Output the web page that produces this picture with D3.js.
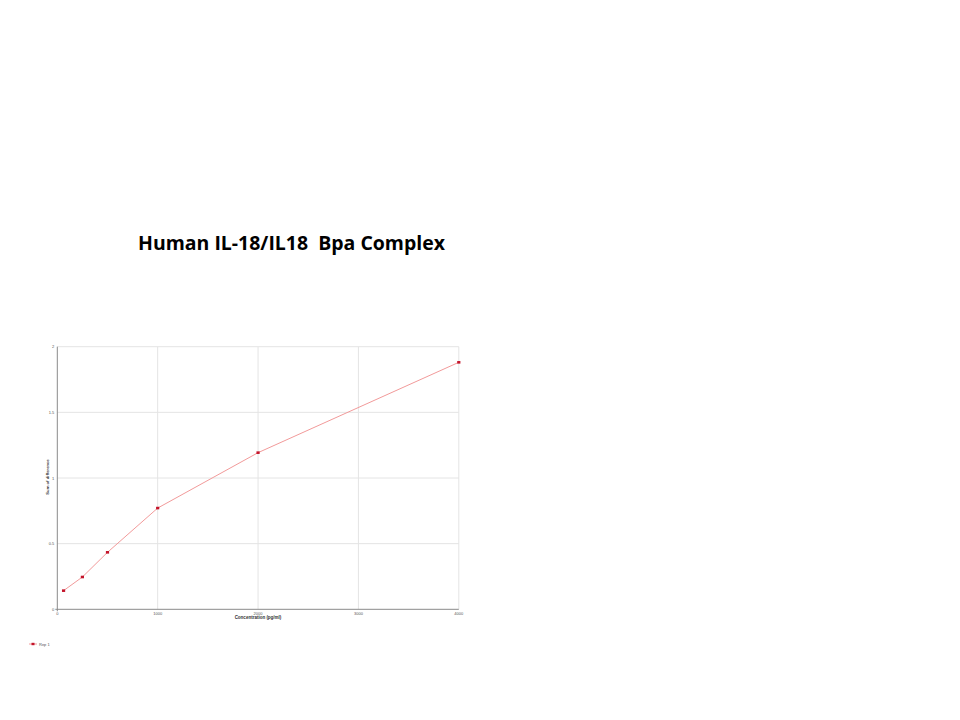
<!DOCTYPE html>
<html>
<head>
<meta charset="utf-8">
<script src="https://cdn.jsdelivr.net/npm/d3@7"></script>
<style>
  body { margin: 0; background: #fff; }
  svg { display: block; }
</style>
</head>
<body>
<div id="chart"></div>
<script>
// Standard curve data (concentration in pg/ml vs. difference)
const concentrations = [62.5, 250, 500, 1000, 2000, 4000];
const differences = [0.142, 0.246, 0.434, 0.771, 1.193, 1.881];
const xTicks = [0, 1000, 2000, 3000, 4000];
const yTicks = [0, 0.5, 1, 1.5, 2];
const seriesName = 'Rep 1';

const width = 960, height = 720;

const svg = d3.select('#chart').append('svg')
    .attr('width', width)
    .attr('height', height);

// Title (keep the double space)
svg.append('text')
    .attr('x', 138)
    .attr('y', 250)
    .attr('textLength', 307)
    .attr('lengthAdjust', 'spacingAndGlyphs')
    .style('white-space', 'pre')
    .style('font-family', '"Open Sans", "Liberation Sans", sans-serif')
    .style('font-weight', 'bold')
    .style('font-size', '19px')
    .style('fill', '#000')
    .text('Human IL-18/IL18  Bpa Complex');

// Plot area
const x = d3.scaleLinear().domain([0, 4000]).range([57.3, 458.8]);
const y = d3.scaleLinear().domain([0, 2]).range([609.3, 346.7]);

// gridlines
svg.append('g')
    .selectAll('line')
    .data(xTicks.slice(1))
    .enter()
    .append('line')
    .attr('x1', d => x(d)).attr('x2', d => x(d))
    .attr('y1', y(2)).attr('y2', y(0))
    .style('stroke', '#e4e4e4')
    .style('stroke-width', 1);

svg.append('g')
    .selectAll('line')
    .data(yTicks.slice(1))
    .enter()
    .append('line')
    .attr('x1', x(0)).attr('x2', x(4000))
    .attr('y1', d => y(d)).attr('y2', d => y(d))
    .style('stroke', '#e4e4e4')
    .style('stroke-width', 1);

// axes lines
svg.append('line')
    .attr('x1', x(0)).attr('x2', x(0))
    .attr('y1', y(2)).attr('y2', y(0) + 2)
    .style('stroke', '#8a8a8a')
    .style('stroke-width', 1);

svg.append('line')
    .attr('x1', x(0) - 2).attr('x2', x(4000))
    .attr('y1', y(0)).attr('y2', y(0))
    .style('stroke', '#8a8a8a')
    .style('stroke-width', 1);

// tick labels
const tickFont = '"Liberation Sans", Arial, sans-serif';
svg.append('g')
    .selectAll('text')
    .data(yTicks)
    .enter()
    .append('text')
    .attr('x', x(0) - 3)
    .attr('y', d => y(d) + 1.5)
    .style('text-anchor', 'end')
    .style('font-family', tickFont)
    .style('font-size', '4px')
    .style('fill', '#555')
    .text(d => d);

svg.append('g')
    .selectAll('text')
    .data(xTicks)
    .enter()
    .append('text')
    .attr('x', d => x(d))
    .attr('y', y(0) + 5.5)
    .style('text-anchor', 'middle')
    .style('font-family', tickFont)
    .style('font-size', '4px')
    .style('fill', '#555')
    .text(d => d);

// axis titles
svg.append('text')
    .attr('x', 258)
    .attr('y', 618.5)
    .style('text-anchor', 'middle')
    .style('font-family', tickFont)
    .style('font-weight', 'bold')
    .style('font-size', '4.5px')
    .style('fill', '#333')
    .text('Concentration (pg/ml)');

svg.append('text')
    .attr('transform', 'translate(48.5, 477) rotate(-90)')
    .style('text-anchor', 'middle')
    .style('font-family', tickFont)
    .style('font-weight', 'bold')
    .style('font-size', '4.2px')
    .style('fill', '#333')
    .text('Sum of difference');

// series line and markers
const points = concentrations.map((c, i) => ({ c: c, v: differences[i] }));

svg.append('path')
    .datum(points)
    .attr('d', d3.line().x(d => x(d.c)).y(d => y(d.v)))
    .style('fill', 'none')
    .style('stroke', '#f29a9a')
    .style('stroke-width', 1);

svg.selectAll('.marker')
    .data(points)
    .enter()
    .append('rect')
    .attr('class', 'marker')
    .attr('x', d => x(d.c) - 1.6)
    .attr('y', d => y(d.v) - 1.3)
    .attr('width', 3.2)
    .attr('height', 2.6)
    .style('fill', '#c4142a');

// legend
svg.append('line')
    .attr('x1', 29).attr('x2', 37)
    .attr('y1', 644).attr('y2', 644)
    .style('stroke', '#f29a9a')
    .style('stroke-width', 1);

svg.append('rect')
    .attr('x', 31.5).attr('y', 642.8)
    .attr('width', 3).attr('height', 2.4)
    .style('fill', '#c4142a');

svg.append('text')
    .attr('x', 39)
    .attr('y', 645.5)
    .style('font-family', tickFont)
    .style('font-size', '4px')
    .style('fill', '#555')
    .text(seriesName);
</script>
</body>
</html>
